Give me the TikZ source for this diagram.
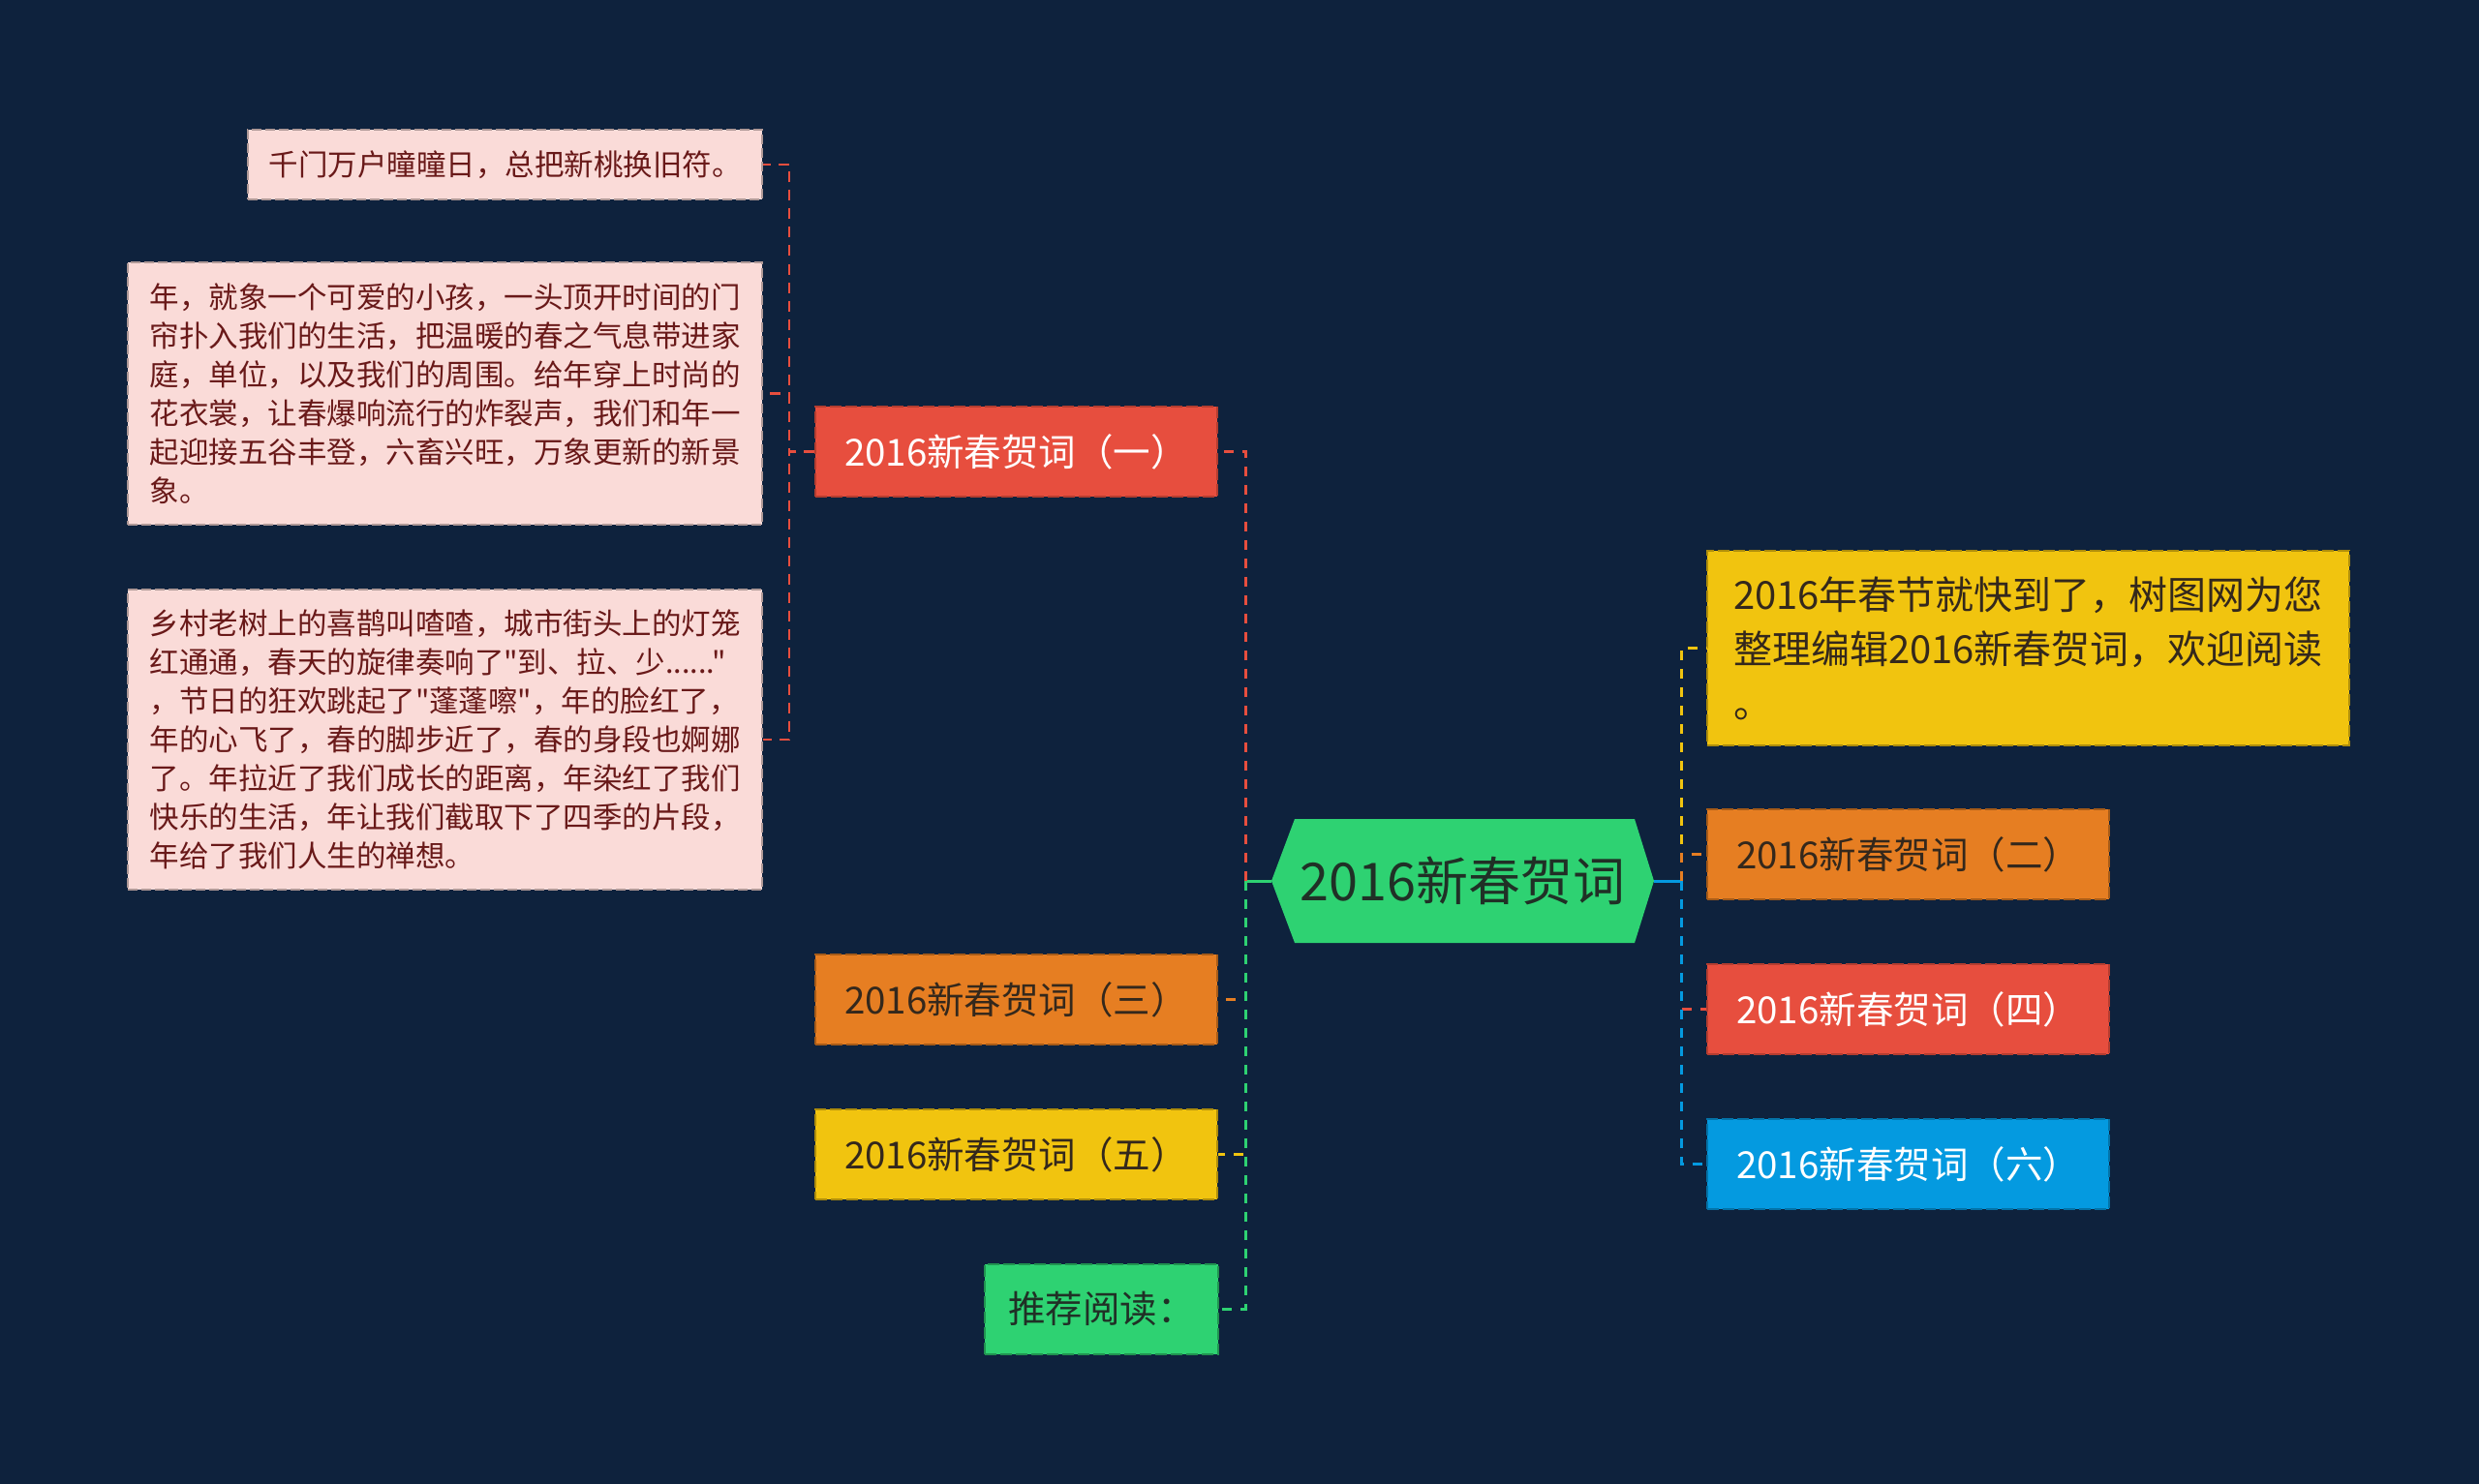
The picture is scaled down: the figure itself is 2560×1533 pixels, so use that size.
\documentclass[tikz,border=0pt]{standalone}
\usepackage{fontspec}
\newfontfamily\cjk{Noto Sans CJK SC}
\definecolor{bg}{RGB}{14,34,61}
\definecolor{cred}{RGB}{231,78,62}
\definecolor{corange}{RGB}{230,126,34}
\definecolor{cyellow}{RGB}{241,196,15}
\definecolor{cgreen}{RGB}{46,210,114}
\definecolor{cblue}{RGB}{4,154,224}
\definecolor{cpink}{RGB}{250,219,216}
\definecolor{tleaf}{RGB}{105,25,25}
\definecolor{tdark}{RGB}{52,40,28}
\definecolor{tgreen}{RGB}{32,48,38}
\tikzset{
  box/.style={line width=2pt, dash pattern=on 12pt off 4pt, inner sep=0pt,
    minimum width=415pt, minimum height=93pt, font=\cjk\fontsize{38.5}{46}\selectfont},
  redbox/.style={box, fill=cred, draw=cred!78!black, text=white},
  orangebox/.style={box, fill=corange, draw=corange!72!black, text=tdark},
  yellowbox/.style={box, fill=cyellow, draw=cyellow!72!black, text=tdark},
  greenbox/.style={box, fill=cgreen, draw=cgreen!70!black, text=tgreen},
  bluebox/.style={box, fill=cblue, draw=cblue!75!black, text=white},
  leaf/.style={draw=cpink!70!black, fill=cpink, text=tleaf, line width=1.6pt,
    dash pattern=on 10pt off 4pt, align=left, inner sep=0pt,
    font=\cjk\fontsize{30.5}{40}\selectfont},
  conn/.style={line width=3pt, dash pattern=on 10pt off 9pt},
  lconn/.style={line width=2.2pt, dash pattern=on 11pt off 8pt, cred},
  trunk/.style={line width=3pt}
}
\begin{document}
\begin{tikzpicture}[x=1pt,y=-1pt]
\fill[bg] (0,0) rectangle (2560,1533);
\useasboundingbox (0,0) rectangle (2560,1533);

% centre
\node[minimum width=395pt, minimum height=128pt, inner sep=0pt, fill=bg, text=tgreen,
  font=\cjk\fontsize{54}{60}\selectfont,
  path picture={\fill[cgreen] (path picture bounding box.west)
    -- ([xshift=24pt]path picture bounding box.north west)
    -- ([xshift=-20pt]path picture bounding box.north east)
    -- (path picture bounding box.east)
    -- ([xshift=-20pt]path picture bounding box.south east)
    -- ([xshift=24pt]path picture bounding box.south west) -- cycle;}]
  (center) at (1510.5,910) {2016新春贺词};

% left children
\node[redbox] (n1) at (1049.5,466.5) {2016新春贺词（一）};
\node[orangebox] (n3) at (1049.5,1032.5) {2016新春贺词（三）};
\node[yellowbox] (n5) at (1049.5,1192.5) {2016新春贺词（五）};
\node[greenbox, minimum width=241pt] (rec) at (1137.5,1352) {推荐阅读：};

% right children
\node[yellowbox, minimum width=663pt, minimum height=201pt, align=left,
  font=\cjk\fontsize{40}{56}\selectfont] (intro) at (2094.5,669.5)
  {2016年春节就快到了，树图网为您\\整理编辑2016新春贺词，欢迎阅读\\。};
\node[orangebox] (n2) at (1970.5,882.5) {2016新春贺词（二）};
\node[redbox] (n4) at (1970.5,1042.5) {2016新春贺词（四）};
\node[bluebox] (n6) at (1970.5,1202.5) {2016新春贺词（六）};

% leaves
\node[leaf, minimum width=531pt, minimum height=72pt] (leaf1) at (521.5,170)
  {千门万户曈曈日，总把新桃换旧符。};
\node[leaf, minimum width=655pt, minimum height=271pt] (leaf2) at (459.5,406.5)
  {年，就象一个可爱的小孩，一头顶开时间的门\\帘扑入我们的生活，把温暖的春之气息带进家\\庭，单位，以及我们的周围。给年穿上时尚的\\花衣裳，让春爆响流行的炸裂声，我们和年一\\起迎接五谷丰登，六畜兴旺，万象更新的新景\\象。};
\node[leaf, minimum width=655pt, minimum height=310pt] (leaf3) at (459.5,764)
  {乡村老树上的喜鹊叫喳喳，城市街头上的灯笼\\红通通，春天的旋律奏响了"到、拉、少......"\\，节日的狂欢跳起了"蓬蓬嚓"，年的脸红了，\\年的心飞了，春的脚步近了，春的身段也婀娜\\了。年拉近了我们成长的距离，年染红了我们\\快乐的生活，年让我们截取下了四季的片段，\\年给了我们人生的禅想。};

% junctions
\coordinate (LJ) at (1286,910);
\coordinate (RJ) at (1736,910);
\coordinate (LL) at (815,466.5);

% left connectors
\draw[trunk, cgreen] (center.west) -- (LJ);
\draw[conn, cred] (LJ) |- (n1.east);
\draw[conn, corange] (LJ) |- (n3.east);
\draw[conn, cyellow] (LJ) |- (n5.east);
\draw[conn, cgreen] (LJ) |- (rec.east);

% right connectors
\draw[trunk, cblue] (center.east) -- (RJ);
\draw[conn, cyellow] (RJ) |- (intro.west);
\draw[conn, corange] (RJ) |- (n2.west);
\draw[conn, cred] (RJ) |- (n4.west);
\draw[conn, cblue] (RJ) |- (n6.west);

% leaf connectors
\draw[lconn] (n1.west) -- (LL) |- (leaf1.east);
\draw[lconn] (n1.west) -- (LL) |- (leaf2.east);
\draw[lconn] (n1.west) -- (LL) |- (leaf3.east);
\end{tikzpicture}
\end{document}
